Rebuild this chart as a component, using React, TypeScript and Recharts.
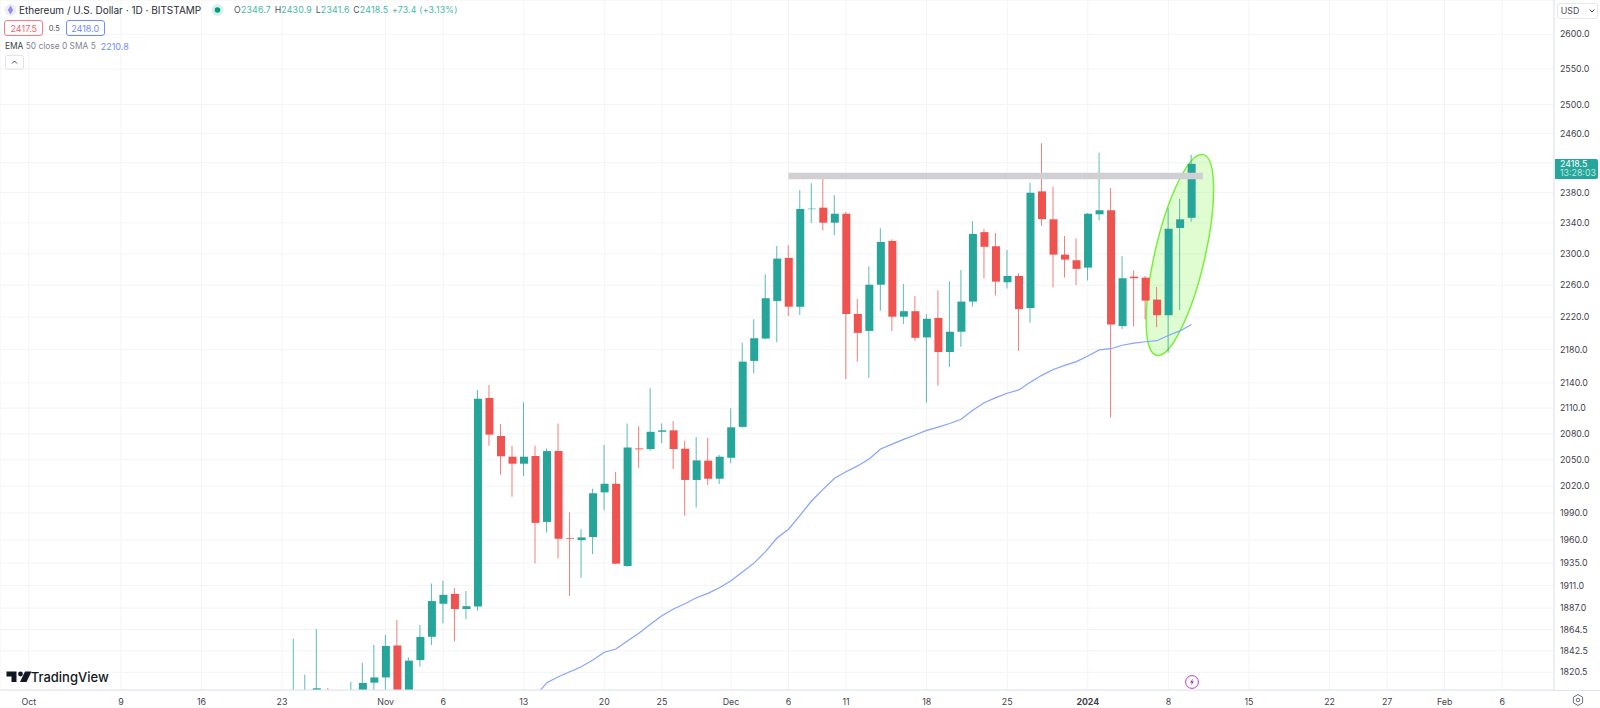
import { Bar, CartesianGrid, Cell, ComposedChart, Line, ReferenceDot, ReferenceLine, XAxis, YAxis } from 'recharts';

const FONT = 'Inter, sans-serif';
const UP = '#26a69a';
const DOWN = '#ef5350';

const DAY_COUNT = 135;
const FIRST_DAY = Date.UTC(2023, 8, 29);
const FIRST_CANDLE = '2023-10-24';
const FIRST_EMA = '2023-11-14';

const priceTicks = [2600, 2550, 2500, 2460, 2420, 2380, 2340, 2300, 2260, 2220, 2180, 2140, 2110, 2080, 2050, 2020, 1990, 1960, 1935, 1911, 1887, 1864.5, 1842.5, 1820.5];

const tickDates = ['2023-10-01', '2023-10-09', '2023-10-16', '2023-10-23', '2023-11-01', '2023-11-06', '2023-11-13', '2023-11-20', '2023-11-25', '2023-12-01', '2023-12-06', '2023-12-11', '2023-12-18', '2023-12-25', '2024-01-01', '2024-01-08', '2024-01-15', '2024-01-22', '2024-01-27', '2024-02-01', '2024-02-06'];
const tickLabels = ['Oct', '9', '16', '23', 'Nov', '6', '13', '20', '25', 'Dec', '6', '11', '18', '25', '2024', '8', '15', '22', '27', 'Feb', '6'];

const opens = [1786, 1780, 1795, 1800, 1780, 1780, 1795, 1810, 1815.3, 1848, 1795, 1833, 1857, 1891.6, 1902, 1886, 1888.8, 2122, 2077.4, 2053.5, 2045.5, 2054.3, 1980, 2060, 1962, 1960, 1963.4, 2013, 2022.7, 1932, 2063, 2062.3, 2082.3, 2084, 2062.7, 2027, 2049, 2028.4, 2052.3, 2088, 2166.4, 2193.6, 2240.2, 2294.7, 2233, 2358, 2360, 2340.3, 2352, 2224, 2203, 2260.6, 2316.6, 2220.6, 2227.4, 2195, 2219, 2177.2, 2202, 2239.4, 2328, 2309.7, 2263.7, 2271.7, 2231.5, 2381.6, 2344.7, 2298.9, 2291.7, 2282.3, 2351.3, 2356.6, 2209, 2270.8, 2269.5, 2241.9, 2222.4, 2333.4, 2346.7];
const highs = [1855, 1818, 1865, 1804.6, 1800, 1811, 1830, 1848.5, 1859, 1874.5, 1835.5, 1869.2, 1913.2, 1916, 1908, 1905, 2131.6, 2137.5, 2091.4, 2066, 2117, 2066, 2063, 2092, 1990.7, 1972, 2017, 2067, 2036, 2092, 2088.7, 2133.6, 2092, 2095, 2072, 2076.2, 2075, 2055.4, 2110, 2188.4, 2217.4, 2273.9, 2310.1, 2311.4, 2383.4, 2392.3, 2402.6, 2376.3, 2354.7, 2242.7, 2284, 2333, 2318.8, 2261.5, 2246.3, 2223.6, 2253.6, 2265, 2279.4, 2342.5, 2332, 2327, 2304.8, 2275.2, 2393.2, 2446.5, 2387.8, 2323, 2320, 2353, 2433.7, 2386, 2296.8, 2278.5, 2271.7, 2257.8, 2359.3, 2371.4, 2430.9];
const lows = [1765, 1770, 1780, 1770, 1765, 1775, 1785, 1790, 1795, 1785, 1780, 1826.2, 1848.5, 1871, 1852, 1875.3, 1884.2, 2066, 2033, 2008, 2031.5, 1934.8, 1968.5, 1940, 1899.7, 1919, 1945, 1993, 1933.7, 1931, 2041, 2060.4, 2069, 2039.4, 1987, 1996, 2021.2, 2022.4, 2046, 2087, 2151.6, 2192.8, 2189, 2221.5, 2222.8, 2339.5, 2330, 2324, 2144.7, 2165.5, 2146, 2228, 2203, 2211.6, 2190.9, 2116.4, 2136.4, 2159, 2183.7, 2233, 2268.3, 2247, 2255.7, 2178.8, 2213.2, 2336.4, 2257.4, 2269.6, 2260.3, 2266, 2343, 2099, 2205.4, 2208.3, 2217.4, 2207.6, 2176.4, 2229, 2341.6];
const closes = [1788, 1795, 1804.3, 1780, 1785, 1795, 1809.7, 1815.3, 1847.5, 1795, 1832.4, 1856.8, 1894.4, 1901, 1886, 1889, 2121, 2079, 2054, 2045.5, 2053.5, 1979, 2060, 1961.5, 1961.2, 1963, 2012, 2022.7, 1934.4, 2064, 2062, 2082.3, 2084, 2062.3, 2027, 2049.3, 2028.4, 2053.5, 2087.5, 2165.5, 2194, 2243.6, 2293.8, 2233, 2358.3, 2358.7, 2340.3, 2352, 2224, 2200.6, 2260.6, 2315.3, 2220.6, 2227.4, 2194.5, 2218, 2177.2, 2202, 2239.4, 2325.6, 2309, 2264.5, 2271.7, 2230, 2379.7, 2345, 2298.9, 2292.5, 2280.7, 2352, 2356.6, 2210.8, 2268.8, 2268.8, 2240.6, 2222.4, 2332.5, 2344.7, 2418.5];
const ema50 = [1796, 1810, 1816, 1821, 1826.2, 1833, 1841, 1844.4, 1852.6, 1860.6, 1870, 1879, 1886, 1891.6, 1898, 1902.6, 1908.6, 1916, 1925.5, 1935, 1947.4, 1962.3, 1972, 1987.4, 2003.3, 2016.4, 2029, 2036.4, 2043, 2051, 2062.3, 2068, 2073.5, 2078.5, 2084, 2087.8, 2092, 2097, 2107.6, 2116.4, 2122.4, 2127.6, 2131.6, 2140.6, 2149, 2156, 2161, 2165.5, 2172.4, 2179.7, 2181.2, 2185.4, 2188, 2189.7, 2191, 2197.4, 2203, 2210.8];

const days = Array.from({ length: DAY_COUNT }, (_, i) => new Date(FIRST_DAY + i * 86400000).toISOString().slice(0, 10));
const candleStart = days.indexOf(FIRST_CANDLE);
const emaStart = days.indexOf(FIRST_EMA);

const rows = days.map((day, i) => {
  const c = i - candleStart;
  const e = i - emaStart;
  const hasCandle = c >= 0 && c < opens.length;
  return {
    day,
    body: hasCandle ? [Math.min(opens[c], closes[c]), Math.max(opens[c], closes[c])] : null,
    wick: hasCandle ? [lows[c], highs[c]] : null,
    up: hasCandle ? closes[c] >= opens[c] : true,
    ema: e >= 0 && e < ema50.length ? ema50[e] : null,
  };
});

function DateTick({ x, y, payload }: any) {
  const label = tickLabels[tickDates.indexOf(payload.value)];
  return (
    <text x={x} y={y + 13} textAnchor="middle" fontFamily={FONT} fontSize={8.8} fontWeight={label === '2024' ? 700 : 400} fill="#3f424d">
      {label}
    </text>
  );
}

function Highlight({ cx, cy }: any) {
  return (
    <ellipse
      cx={cx}
      cy={cy}
      rx={25}
      ry={103}
      transform={`rotate(13.1 ${cx} ${cy})`}
      fill="rgba(100, 245, 30, 0.2)"
      stroke="#77f03a"
      strokeWidth={1.5}
    />
  );
}

function Header() {
  const up = '#45b8a8';
  return (
    <div style={{ position: 'absolute', left: 0, top: 0, fontFamily: FONT, whiteSpace: 'nowrap' }}>
      <svg width={16} height={16} style={{ position: 'absolute', left: 3, top: 2 }}>
        <circle cx={7.5} cy={8} r={6} fill="#eceefa" />
        <path d="M7.5 3.5 L10.2 8 L7.5 12.5 L4.8 8 Z" fill="#9a8ee8" />
      </svg>
      <div style={{ position: 'absolute', left: 19, top: 1.5, fontSize: 10, lineHeight: '17px', color: '#2a2e39' }}>
        Ethereum / U.S. Dollar · 1D · BITSTAMP
      </div>
      <svg width={14} height={14} style={{ position: 'absolute', left: 211, top: 3 }}>
        <circle cx={6.5} cy={7} r={6} fill="#d8f1ed" />
        <circle cx={6.5} cy={7} r={2.8} fill="#089981" />
      </svg>
      <div style={{ position: 'absolute', left: 234, top: 2.5, fontSize: 8.75, lineHeight: '15px', color: up, letterSpacing: 0.2 }}>
        <span style={{ color: '#50535e' }}>O</span>2346.7{' '}
        <span style={{ color: '#50535e', marginLeft: 1 }}>H</span>2430.9{' '}
        <span style={{ color: '#50535e', marginLeft: 1 }}>L</span>2341.6{' '}
        <span style={{ color: '#50535e', marginLeft: 1 }}>C</span>2418.5{' '}
        <span style={{ marginLeft: 1 }}>+73.4 (+3.13%)</span>
      </div>
      <div style={{ position: 'absolute', left: 4.3, top: 20.3, width: 37, height: 14, border: '1px solid #f77c80', borderRadius: 3, color: '#f7616b', fontSize: 9, lineHeight: '15px', textAlign: 'center' }}>2417.5</div>
      <div style={{ position: 'absolute', left: 48.7, top: 21, fontSize: 7.5, lineHeight: '15px', color: '#50535e' }}>0.5</div>
      <div style={{ position: 'absolute', left: 65.7, top: 20.3, width: 37, height: 14, border: '1px solid #6f8dff', borderRadius: 3, color: '#6f8dff', fontSize: 9, lineHeight: '15px', textAlign: 'center' }}>2418.0</div>
      <div style={{ position: 'absolute', left: 5, top: 39, fontSize: 8.4, lineHeight: '15px', color: '#82858f' }}>
        <span style={{ color: '#3c3f4a' }}>EMA</span> 50 close 0 SMA 5
      </div>
      <div style={{ position: 'absolute', left: 100.7, top: 39, fontSize: 9, lineHeight: '15px', color: '#6f8dff' }}>2210.8</div>
      <svg width={20} height={16} style={{ position: 'absolute', left: 4.5, top: 55.2 }}>
        <rect x={0.5} y={0.5} width={18} height={13.5} rx={2} fill="#fff" stroke="#e0e3eb" />
        <path d="M7 8.5 L9.5 6 L12 8.5" fill="none" stroke="#3c3f4a" strokeWidth={1} />
      </svg>
    </div>
  );
}

function PriceAxisExtras() {
  return (
    <div style={{ position: 'absolute', left: 0, top: 0, fontFamily: FONT }}>
      <div style={{ position: 'absolute', left: 1557.3, top: 2.7, width: 36, height: 14.6, border: '1px solid #e6e8ee', borderRadius: 3, background: '#fff', fontSize: 8.8, lineHeight: '14.6px', color: '#4a4d57', paddingLeft: 2.5 }}>
        USD
      </div>
      <svg width={8} height={6} style={{ position: 'absolute', left: 1588, top: 8 }}>
        <path d="M1.5 1.5 L4 4 L6.5 1.5" fill="none" stroke="#4a4d57" strokeWidth={1} />
      </svg>
      <div style={{ position: 'absolute', left: 1554.5, top: 158.7, width: 43, height: 20, background: UP, borderRadius: '0 2px 2px 0', color: '#fff' }}>
        <div style={{ position: 'absolute', left: 5.5, top: 0.5, fontSize: 8.8, lineHeight: '10px' }}>2418.5</div>
        <div style={{ position: 'absolute', left: 5.5, top: 9.8, color: '#bde6e0', fontSize: 8.8, lineHeight: '10px' }}>13:28:03</div>
      </div>
      <div style={{ position: 'absolute', left: 1554, top: 690, width: 46, height: 1, background: '#e0e3eb' }} />
      <svg width={16} height={16} style={{ position: 'absolute', left: 1570, top: 692 }}>
        <path d="M8 2.5 L12.6 5.2 L12.6 10.8 L8 13.5 L3.4 10.8 L3.4 5.2 Z" fill="none" stroke="#6a6d78" strokeWidth={1} />
        <circle cx={8} cy={8} r={1.8} fill="none" stroke="#6a6d78" strokeWidth={1} />
      </svg>
    </div>
  );
}

function Branding() {
  return (
    <div style={{ position: 'absolute', left: 0, top: 0, fontFamily: FONT }}>
      <svg width={26} height={14} style={{ position: 'absolute', left: 6, top: 670 }}>
        <path d="M0.5 1.5 H10.5 V12 H5.5 V6.5 H0.5 Z" fill="#131722" />
        <circle cx={14.5} cy={4} r={2.4} fill="#131722" />
        <path d="M19 1.5 H25.5 L20.5 12 H14 Z" fill="#131722" />
      </svg>
      <div style={{ position: 'absolute', left: 30.7, top: 667, fontSize: 13, lineHeight: '20px', fontWeight: 500, color: '#131722' }}>TradingView</div>
      <svg width={16} height={16} style={{ position: 'absolute', left: 1184, top: 674 }}>
        <circle cx={8} cy={8} r={6.4} fill="#fff" stroke="#c23bd0" strokeWidth={1} />
        <path d="M9.2 4.4 L6 8.6 H8 L6.8 11.6 L10 7.4 H8 Z" fill="#8f2a9c" />
      </svg>
    </div>
  );
}

export default function App() {
  return (
    <div style={{ position: 'absolute', left: 0, top: 0, width: 1600, height: 708, background: '#fff', overflow: 'hidden' }}>
      <ComposedChart width={1600} height={708} data={rows} margin={{ top: 0, right: 0, bottom: 0, left: 0 }}>
        <CartesianGrid stroke="#f3f4f6" />
        <XAxis
          dataKey="day"
          height={18}
          ticks={tickDates}
          interval={0}
          tick={<DateTick />}
          tickLine={false}
          tickSize={0}
          axisLine={{ stroke: '#e0e3eb' }}
        />
        <XAxis xAxisId="wick" dataKey="day" hide />
        <YAxis
          orientation="right"
          width={46}
          scale="log"
          domain={[1802.6, 2650.3]}
          allowDataOverflow
          ticks={priceTicks}
          interval={0}
          tickFormatter={(v: number) => v.toFixed(1)}
          tickLine={false}
          tickSize={0}
          tickMargin={6}
          tick={{ fontFamily: FONT, fontSize: 8.8, fill: '#3f424d' }}
          axisLine={{ stroke: '#e0e3eb' }}
        />
        <ReferenceDot x="2024-01-09" y={2298.5} shape={<Highlight />} zIndex={50} />
        <ReferenceLine
          segment={[{ x: '2023-12-06', y: 2402 }, { x: '2024-01-11', y: 2402 }]}
          stroke="#cfcfd4"
          strokeWidth={6.5}
        />
        <Bar xAxisId="wick" dataKey="wick" barSize={1} fillOpacity={0.75} isAnimationActive={false}>
          {rows.map((r) => (
            <Cell key={r.day} fill={r.up ? UP : DOWN} />
          ))}
        </Bar>
        <Bar dataKey="body" barSize={8} isAnimationActive={false}>
          {rows.map((r) => (
            <Cell key={r.day} fill={r.up ? UP : DOWN} />
          ))}
        </Bar>
        <Line dataKey="ema" stroke="#86a3ff" strokeWidth={1.2} dot={false} activeDot={false} isAnimationActive={false} />
      </ComposedChart>
      <Header />
      <PriceAxisExtras />
      <Branding />
    </div>
  );
}
